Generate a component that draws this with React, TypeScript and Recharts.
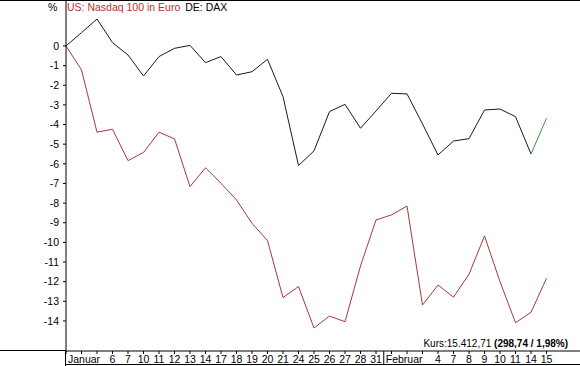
import React from "react";
import { LineChart, Line, XAxis, YAxis } from "recharts";

// trading days, 3 Jan - 15 Feb
const dates = [
  "03.01", "04.01", "05.01", "06.01", "07.01", "10.01", "11.01", "12.01",
  "13.01", "14.01", "17.01", "18.01", "19.01", "20.01", "21.01", "24.01",
  "25.01", "26.01", "27.01", "28.01", "31.01", "01.02", "02.02", "03.02",
  "04.02", "07.02", "08.02", "09.02", "10.02", "11.02", "14.02", "15.02",
];

const xLabels = [
  "Januar", "", "", "6", "7", "10", "11", "12", "13", "14", "17", "18", "19",
  "20", "21", "24", "25", "26", "27", "28", "31", "Februar", "", "", "4", "7",
  "8", "9", "10", "11", "14", "15",
];

// % change
const nasdaqEuro = [
  0, -1.22, -4.39, -4.24, -5.84, -5.42, -4.39, -4.73, -7.16, -6.2, -6.99,
  -7.84, -9.03, -9.91, -12.81, -12.25, -14.36, -13.75, -14.04, -11.2, -8.86,
  -8.6, -8.15, -13.19, -12.17, -12.79, -11.62, -9.67, -12.0, -14.09, -13.56,
  -11.83,
];

const dax = [
  0, 0.68, 1.37, 0.17, -0.46, -1.53, -0.54, -0.12, 0.03, -0.85, -0.54, -1.48,
  -1.31, -0.68, -2.58, -6.09, -5.34, -3.34, -2.97, -4.19, -3.31, -2.41, -2.44,
  -3.97, -5.55, -4.84, -4.72, -3.26, -3.21, -3.6, -5.5, -3.68,
];

const yTicks = [0, -1, -2, -3, -4, -5, -6, -7, -8, -9, -10, -11, -12, -13, -14];

const last = dax.length - 1;
const data = dates.map((d, i) => ({
  date: d,
  nasdaq: nasdaqEuro[i],
  dax: i < last ? dax[i] : null,
  daxUp: i >= last - 1 ? dax[i] : null,
}));

const FONT = "'Liberation Sans', Arial, sans-serif";
const STEP = (580 - 66 - 33.5) / 31;

function XTick(props: any) {
  const { x, y, payload } = props;
  const i = dates.indexOf(payload.value);
  const label = xLabels[i];
  const isMonth = label === "Januar" || label === "Februar";
  if (isMonth) {
    const sepX = i === 0 ? x : x - STEP / 2;
    return (
      <g>
        {i > 0 && <line x1={sepX} y1={351} x2={sepX} y2={365} stroke="#000" />}
        <text x={sepX + 2} y={y} dy={8.5} fontSize={10.5} fontFamily={FONT} fill="#000" textAnchor="start">
          {label}
        </text>
      </g>
    );
  }
  return (
    <text x={x} y={y} dy={8.5} fontSize={10.5} fontFamily={FONT} fill="#000" textAnchor="middle">
      {label}
    </text>
  );
}

export default function App() {
  return (
    <div style={{ position: "absolute", left: 0, top: 0, width: 580, height: 366, background: "#fff", fontFamily: FONT }}>
      <LineChart width={580} height={366} data={data} margin={{ top: 0, right: 0, bottom: 0, left: 0 }}>
        <XAxis
          dataKey="date"
          height={15}
          interval={0}
          tickSize={3}
          tickMargin={0}
          padding={{ left: 0, right: 33.5 }}
          axisLine={{ stroke: "#000" }}
          tickLine={{ stroke: "#000" }}
          tick={<XTick />}
        />
        <YAxis
          width={66}
          type="number"
          domain={[-15.53, 2.34]}
          allowDataOverflow
          ticks={yTicks}
          interval={0}
          tickSize={3}
          tickMargin={4}
          axisLine={{ stroke: "#000" }}
          tickLine={{ stroke: "#000" }}
          tick={{ fontSize: 10.5, fill: "#000", fontFamily: FONT }}
        />
        <Line type="linear" dataKey="nasdaq" stroke="#a83838" strokeWidth={1} dot={false} isAnimationActive={false} />
        <Line type="linear" dataKey="dax" stroke="#1a1a1a" strokeWidth={1} dot={false} isAnimationActive={false} />
        <Line type="linear" dataKey="daxUp" stroke="#3c8a3c" strokeWidth={1} dot={false} isAnimationActive={false} />
      </LineChart>

      {/* frame lines */}
      <div style={{ position: "absolute", left: 0, top: 0, width: 580, height: 1, background: "#000" }} />
      <div style={{ position: "absolute", left: 0, top: 350, width: 66, height: 1, background: "#000" }} />
      <div style={{ position: "absolute", left: 65, top: 351, width: 1, height: 15, background: "#000" }} />
      <div style={{ position: "absolute", left: 66, top: 364, width: 514, height: 1, background: "#000" }} />

      {/* legend */}
      <div style={{ position: "absolute", left: 48, top: 1, fontSize: 10.5, color: "#000" }}>%</div>
      <div style={{ position: "absolute", left: 67, top: 1, fontSize: 10.5, whiteSpace: "nowrap" }}>
        <span style={{ color: "#c0302c" }}>US: Nasdaq 100 in Euro</span>
        <span style={{ color: "#000", marginLeft: 5 }}>DE: DAX</span>
      </div>

      <div style={{ position: "absolute", right: 12, top: 338, fontSize: 10, color: "#000", whiteSpace: "nowrap" }}>
        Kurs:15.412,71 <b>(298,74 / 1,98%)</b>
      </div>
    </div>
  );
}
